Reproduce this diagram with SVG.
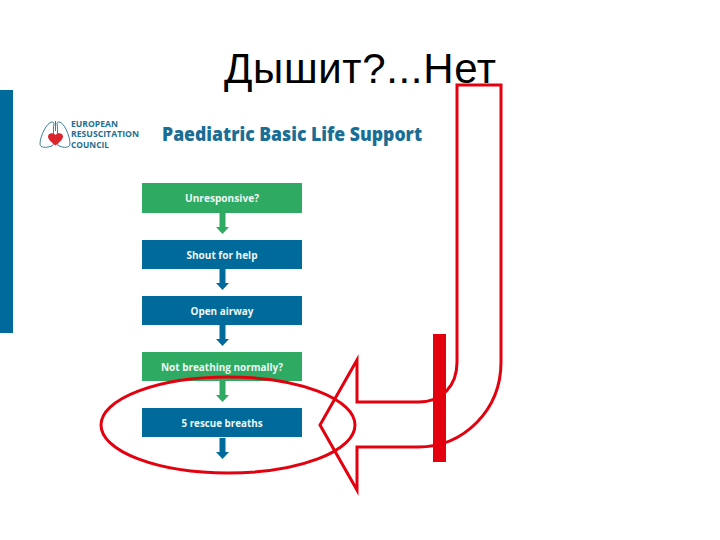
<svg xmlns="http://www.w3.org/2000/svg" width="720" height="540" viewBox="0 0 720 540">
<style>
.box-text{font-family:"Open Sans","Noto Sans",sans-serif;font-weight:700;font-size:10px;fill:#eef6f4;text-anchor:middle}
.green{fill:#2eaa63}
.blue{fill:#006a9b}
.logo{font-family:"Open Sans","Noto Sans",sans-serif;font-weight:700;font-size:8px;fill:#1f6f90}
.outline{fill:none;stroke:#e3000f;stroke-width:3}
</style>
<defs>
<path id="down" d="M-3 0H3V14H6.500L0 21L-6.500 14H-3Z"/>
</defs>
<rect width="720" height="540" fill="#fff"/>
<rect id="side-bar" x="0" y="90" width="13" height="243" fill="#006a9b"/>
<text id="title" x="224" y="83" font-family="'Liberation Sans',Arial,sans-serif" font-size="42" fill="#000" textLength="272" lengthAdjust="spacing">Дышит?...Нет</text>
<g id="logo" fill="none" stroke="#3d7f9b" stroke-width="1">
<path d="M52 122C47 122 40 136 40 144C40 148 46 148 52 146C56 144 52 130 54 124C54 122 53 122 52 122Z"/>
<path d="M59 122C64 122 70 136 70 144C70 148 64 148 59 146C55 144 59 130 57 124C57 122 58 122 59 122Z"/>
<path d="M55.500 121V131"/>
<path d="M55.500 145.500C51 142 48 139 48 136.500C48 133 53 132 55.500 135C58 132 63 133 63 136.500C63 139 60 142 55.500 145.500Z" fill="#d9252c" stroke="none"/>
</g>
<g id="logo-text">
<text class="logo" x="71" y="127" textLength="47" lengthAdjust="spacingAndGlyphs">EUROPEAN</text>
<text class="logo" x="71" y="137" textLength="68" lengthAdjust="spacingAndGlyphs">RESUSCITATION</text>
<text class="logo" x="71" y="148" textLength="38" lengthAdjust="spacingAndGlyphs">COUNCIL</text>
</g>
<text id="chart-title" x="162" y="141" font-family="'Open Sans','Noto Sans',sans-serif" font-weight="800" font-size="19.500" fill="#1a6e96" textLength="260" lengthAdjust="spacingAndGlyphs">Paediatric Basic Life Support</text>
<g id="connectors">
<use href="#down" x="222.500" y="213" class="green"/>
<use href="#down" x="222.500" y="269" class="blue"/>
<use href="#down" x="222.500" y="325" class="blue"/>
<use href="#down" x="222.500" y="381" class="green"/>
<use href="#down" x="222.500" y="437" class="blue" transform="translate(0 1)"/>
</g>
<g id="unresponsive"><rect class="green" x="142" y="183" width="160" height="30"/><text class="box-text" x="222" y="202" textLength="74" lengthAdjust="spacingAndGlyphs">Unresponsive?</text></g>
<g id="shout"><rect class="blue" x="142" y="240" width="160" height="29"/><text class="box-text" x="222" y="258.500" textLength="71" lengthAdjust="spacingAndGlyphs">Shout for help</text></g>
<g id="airway"><rect class="blue" x="142" y="296" width="160" height="29"/><text class="box-text" x="222" y="314.500" textLength="63" lengthAdjust="spacingAndGlyphs">Open airway</text></g>
<g id="not-breathing"><rect class="green" x="142" y="352" width="160" height="29"/><text class="box-text" x="222" y="371" textLength="122" lengthAdjust="spacingAndGlyphs">Not breathing normally?</text></g>
<g id="rescue"><rect class="blue" x="142" y="408" width="160" height="29"/><text class="box-text" x="222" y="427" textLength="81" lengthAdjust="spacingAndGlyphs">5 rescue breaths</text></g>
<ellipse id="highlight" class="outline" cx="228" cy="425" rx="127" ry="48"/>
<path id="big-arrow" class="outline" stroke-linejoin="miter" d="M320 425L357 360V402H418C442 402 457 386 457 362V85H501V362C501 410 464 447 418 447H357V490Z"/>
<rect id="red-bar" x="433" y="334" width="13" height="128" fill="#e3000f"/>
</svg>
